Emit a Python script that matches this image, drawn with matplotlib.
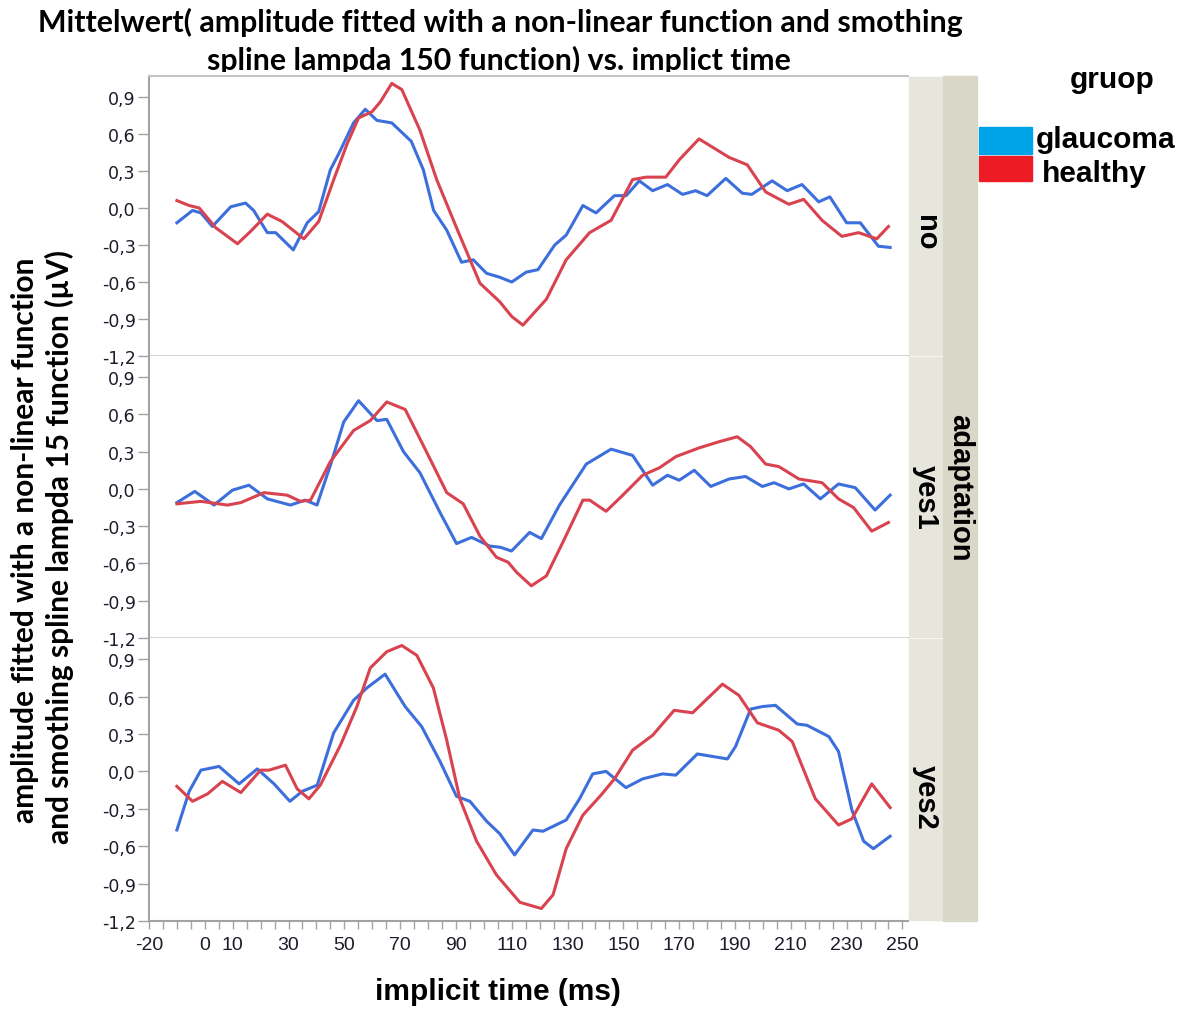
import matplotlib.pyplot as plt
from matplotlib.patches import Rectangle
from matplotlib.ticker import FixedLocator, MultipleLocator
from matplotlib.transforms import Bbox, TransformedBbox

W, H = 1196, 1012

# adaptation = no
t_no_gl = [-10, -4.4, -1.4, 2.7, 9.3, 14.6, 17.5, 22.4, 25.4, 31.7, 36.7, 40.8, 45, 48,
           53.3, 57.5, 61.7, 67, 74, 78.3, 82, 86.7, 92, 96.2, 101, 105.5, 110, 115.2,
           119.4, 125.4, 129.5, 135.5, 140.2, 146.8, 151, 155.7, 160.5, 165.8, 171.2,
           175.9, 180, 186.7, 192.6, 196, 203.3, 208.7, 214, 220, 224, 230, 234.9,
           241.4, 245.6]
amp_no_gl = [-0.12, -0.02, -0.04, -0.15, 0.01, 0.04, -0.02, -0.20, -0.20, -0.34, -0.12,
             -0.03, 0.31, 0.44, 0.69, 0.80, 0.71, 0.69, 0.54, 0.31, -0.02, -0.18, -0.44,
             -0.42, -0.53, -0.56, -0.60, -0.52, -0.50, -0.30, -0.22, 0.02, -0.04, 0.10,
             0.10, 0.22, 0.14, 0.19, 0.11, 0.14, 0.10, 0.24, 0.12, 0.11, 0.22, 0.14, 0.19,
             0.05, 0.09, -0.12, -0.12, -0.31, -0.32]
t_no_he = [-10, -5.6, -2, 3.9, 11.7, 16.4, 22.4, 27.7, 35.5, 40.8, 46.2, 51, 55.1, 59.9,
           62.9, 67, 70.6, 77.1, 83.1, 90.2, 98.6, 105.7, 110, 114, 122.4, 129.5, 137.9,
           145.6, 153.3, 158.1, 165.2, 170, 177.1, 187.9, 194.4, 201, 209.3, 214.6,
           221.2, 228.3, 234.3, 240.8, 245]
amp_no_he = [0.06, 0.02, 0.00, -0.16, -0.29, -0.19, -0.05, -0.11, -0.25, -0.11, 0.23,
             0.52, 0.73, 0.78, 0.86, 1.01, 0.96, 0.63, 0.23, -0.16, -0.61, -0.76, -0.88,
             -0.95, -0.74, -0.42, -0.20, -0.10, 0.23, 0.25, 0.25, 0.39, 0.56, 0.41, 0.35,
             0.13, 0.03, 0.07, -0.10, -0.23, -0.20, -0.25, -0.15]

# adaptation = yes1
t_y1_gl = [-10, -3.6, 3.3, 9.9, 15.8, 22.4, 30.7, 36, 40.2, 45, 49.8, 55.1, 61.7, 65.2,
           71.2, 77.1, 84.3, 90.2, 95.6, 102.1, 106, 109.9, 116.4, 120.6, 127.1, 136.7,
           145.6, 153.3, 160.5, 165.8, 170, 175.4, 181.3, 187.9, 193.8, 199.8, 204,
           209.3, 214.6, 220.6, 227.1, 233.1, 240.2, 245.6]
amp_y1_gl = [-0.11, -0.02, -0.13, -0.01, 0.03, -0.08, -0.13, -0.09, -0.13, 0.19, 0.54,
             0.71, 0.55, 0.56, 0.30, 0.13, -0.19, -0.44, -0.39, -0.46, -0.47, -0.50,
             -0.35, -0.40, -0.13, 0.20, 0.32, 0.27, 0.03, 0.11, 0.07, 0.15, 0.02, 0.08,
             0.10, 0.02, 0.05, 0.00, 0.04, -0.08, 0.04, 0.01, -0.17, -0.05]
t_y1_he = [-10, -1.4, 8.1, 12.9, 21.2, 29.5, 34.3, 37.9, 45, 53.3, 59.3, 65.2, 71.8,
           78.3, 86.7, 92.6, 98.6, 104.5, 108.7, 111.7, 117, 122.4, 128.3, 135.5, 137.9,
           143.8, 149.8, 156.9, 162.9, 168.8, 177.1, 184.3, 190.8, 195.6, 201, 205.7,
           212.9, 221.2, 227.1, 232.5, 239, 245]
amp_y1_he = [-0.12, -0.10, -0.13, -0.11, -0.03, -0.05, -0.10, -0.09, 0.22, 0.47, 0.55,
             0.70, 0.64, 0.35, -0.03, -0.12, -0.38, -0.55, -0.59, -0.67, -0.78, -0.70,
             -0.43, -0.09, -0.09, -0.18, -0.05, 0.11, 0.17, 0.26, 0.33, 0.38, 0.42, 0.34,
             0.20, 0.18, 0.08, 0.05, -0.08, -0.15, -0.34, -0.27]

# adaptation = yes2
t_y2_gl = [-10, -5.6, -1.4, 5.1, 12.3, 18.8, 24.8, 30.5, 34.9, 40.3, 46.2, 53.3, 58.1,
           64.6, 71.8, 77.7, 84.3, 90.2, 95, 101, 105.7, 111, 117.6, 121.2, 129.5, 134.3,
           139, 143.8, 150.9, 156.9, 164, 168.8, 176.5, 187.3, 190.2, 195.6, 199.8,
           204.5, 212.3, 215.8, 223.6, 227.1, 231.9, 236.1, 239.6, 245.6]
amp_y2_gl = [-0.47, -0.16, 0.01, 0.04, -0.10, 0.02, -0.10, -0.24, -0.16, -0.11, 0.31,
             0.57, 0.67, 0.78, 0.52, 0.36, 0.08, -0.20, -0.24, -0.40, -0.50, -0.67, -0.47,
             -0.48, -0.39, -0.22, -0.02, 0.00, -0.13, -0.06, -0.02, -0.03, 0.14, 0.10,
             0.20, 0.50, 0.52, 0.53, 0.38, 0.37, 0.28, 0.16, -0.31, -0.56, -0.62, -0.52]
t_y2_he = [-10, -4.4, 1, 6.3, 12.9, 20, 23, 28.9, 33.1, 37.3, 41.4, 48.6, 54.5, 59.3,
           65.2, 70.6, 76, 81.9, 86.7, 91.4, 97.4, 104.5, 112.9, 120.6, 124.8, 129.5,
           135.5, 142, 146.8, 153.3, 160.5, 168.2, 174.8, 185.5, 191.4, 198, 205.7, 210.5,
           218.8, 227.1, 231.9, 239, 245.6]
amp_y2_he = [-0.12, -0.24, -0.18, -0.08, -0.17, 0.01, 0.01, 0.05, -0.14, -0.22, -0.11,
             0.21, 0.52, 0.83, 0.96, 1.01, 0.93, 0.67, 0.25, -0.22, -0.56, -0.83, -1.05,
             -1.10, -0.99, -0.62, -0.35, -0.19, -0.06, 0.17, 0.29, 0.49, 0.47, 0.70, 0.61,
             0.39, 0.33, 0.24, -0.22, -0.43, -0.38, -0.10, -0.29]

adaptation = ["no", "yes1", "yes2"]
groups = ["glaucoma", "healthy"]
y_ticks = [-1.2, -0.9, -0.6, -0.3, 0.0, 0.3, 0.6, 0.9]
y_tick_labels = ["-1,2", "-0,9", "-0,6", "-0,3", "0,0", "0,3", "0,6", "0,9"]
x_ticks = [-20, 0, 10, 30, 50, 70, 90, 110, 130, 150, 170, 190, 210, 230, 250]

series = [
    (t_no_gl, amp_no_gl, t_no_he, amp_no_he),
    (t_y1_gl, amp_y1_gl, t_y1_he, amp_y1_he),
    (t_y2_gl, amp_y2_gl, t_y2_he, amp_y2_he),
]

LINE_BLUE = "#3d6fdc"
LINE_RED = "#d8434f"
KEY_BLUE = "#00a2e8"
KEY_RED = "#ed1c24"
AXIS_GRAY = "#a3a3a3"
TEXT_COL = "#1c1c2a"


def fx(x):
    return x / W


def fy(y):
    return 1 - y / H


def box(x0, y0, x1, y1):
    return [fx(x0), fy(y1), (x1 - x0) / W, (y1 - y0) / H]


fig = plt.figure(figsize=(W / 100, H / 100), dpi=100)

left, right = 149, 908
edges = [77, 357, 639, 922]

for i, (tg, ag, th, ah) in enumerate(series):
    ax = fig.add_axes(box(left, edges[i], right, edges[i + 1]))
    ax.plot(tg, ag, color=LINE_BLUE, lw=2.2, solid_joinstyle="round")
    ax.plot(th, ah, color=LINE_RED, lw=2.2, solid_joinstyle="round")
    ax.set_xlim(-20, 252)
    ax.set_ylim(-1.2, 1.07)

    ax.set_yticks(y_ticks)
    ax.set_yticklabels(y_tick_labels, family="DejaVu Sans", fontsize=12.5,
                       color=TEXT_COL)
    ax.tick_params(axis="y", length=8, width=1, color=AXIS_GRAY, pad=1.5)

    ax.spines["right"].set_visible(False)
    ax.spines["left"].set_color(AXIS_GRAY)
    ax.spines["left"].set_linewidth(1.5)
    if i == 0:
        ax.spines["top"].set_color("#c4c4c4")
        ax.spines["top"].set_linewidth(1.5)
    else:
        ax.spines["top"].set_visible(False)

    if i < 2:
        ax.spines["bottom"].set_color("#d6d6d6")
        ax.spines["bottom"].set_linewidth(1.5)
        ax.tick_params(axis="x", which="both", bottom=False, labelbottom=False)
    else:
        ax.spines["bottom"].set_color(AXIS_GRAY)
        ax.spines["bottom"].set_linewidth(1.5)
        ax.xaxis.set_major_locator(FixedLocator(x_ticks))
        ax.xaxis.set_minor_locator(MultipleLocator(5))
        ax.set_xticklabels([str(v) for v in x_ticks], family="Liberation Sans",
                           fontsize=14, color=TEXT_COL)
        ax.tick_params(axis="x", which="both", length=6, width=1,
                       color=AXIS_GRAY, pad=5)

    # facet strip for this panel
    fig.patches.append(Rectangle((fx(909), fy(edges[i + 1] - 1)), 34 / W,
                                 (edges[i + 1] - edges[i] - 2) / H,
                                 transform=fig.transFigure, color="#e6e6dc"))

fig.patches.append(Rectangle((fx(943), fy(922)), 34 / W, 845 / H,
                             transform=fig.transFigure, color="#d9d7c8"))

strip_y = [233, 497, 797]
for name, cy in zip(adaptation, strip_y):
    fig.text(fx(926), fy(cy), name, rotation=-90, ha="center", va="center",
             fontsize=21, fontweight="bold", family="Liberation Sans")
fig.text(fx(960), fy(488), "adaptation", rotation=-90, ha="center", va="center",
         fontsize=21, fontweight="bold", family="Liberation Sans")

# legend
fig.text(fx(1112), fy(88), "gruop", ha="center", va="baseline",
         fontsize=21.5, fontweight="bold", family="Liberation Sans")
fig.patches.append(Rectangle((fx(979), fy(155)), 53 / W, 27 / H,
                             transform=fig.transFigure, color=KEY_BLUE))
fig.patches.append(Rectangle((fx(979), fy(182)), 53 / W, 25 / H,
                             transform=fig.transFigure, color=KEY_RED))
fig.text(fx(1036), fy(148), groups[0], ha="left", va="baseline",
         fontsize=21.5, fontweight="bold", family="Liberation Sans")
fig.text(fx(1042), fy(182), groups[1], ha="left", va="baseline",
         fontsize=21.5, fontweight="bold", family="Liberation Sans")

# title, second line cut off at the frame
fig.text(fx(500), fy(32),
         "Mittelwert( amplitude fitted with a non-linear function and smothing",
         ha="center", va="baseline", fontsize=21.8, fontweight="bold", family="Lato")
t2 = fig.text(fx(499), fy(70), "spline lampda 150 function) vs. implict time",
              ha="center", va="baseline", fontsize=21.8, fontweight="bold",
              family="Lato")
t2.set_clip_box(TransformedBbox(Bbox.from_extents(0, fy(73), 1, 1), fig.transFigure))
t2.set_clip_on(True)

fig.text(fx(25), fy(540), "amplitude fitted with a non-linear function",
         rotation=90, ha="center", va="center", fontsize=21.5, fontweight="bold",
         family="Lato")
fig.text(fx(59), fy(547), "and smothing spline lampda 15 function (µV)",
         rotation=90, ha="center", va="center", fontsize=21.5, fontweight="bold",
         family="Lato")

fig.text(fx(498), fy(1000), "implicit time (ms)", ha="center", va="baseline",
         fontsize=21.5, fontweight="bold", family="Liberation Sans")

fig.savefig("out.png", dpi=100)
